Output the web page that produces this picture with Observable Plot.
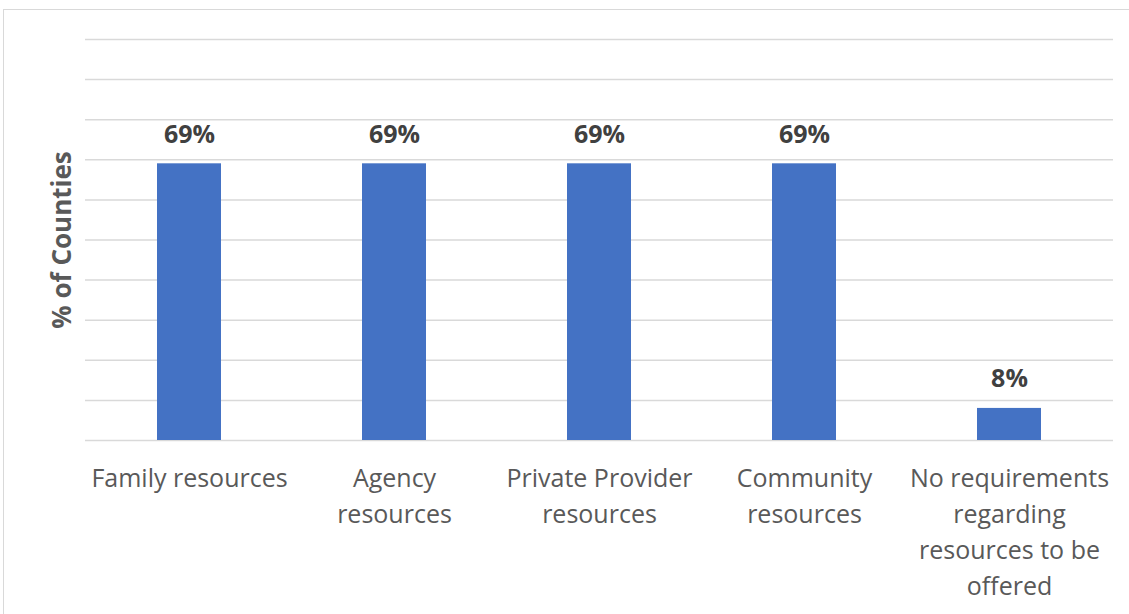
<!DOCTYPE html>
<html>
<head>
<meta charset="utf-8">
<script src="https://cdn.jsdelivr.net/npm/d3@7"></script>
<script src="https://cdn.jsdelivr.net/npm/@observablehq/plot@0.6"></script>
<style>
  html, body { margin: 0; padding: 0; background: #fff; overflow: hidden; }
  #wrap { position: relative; width: 1129px; height: 614px; }
  #frame { position: absolute; left: 3px; top: 9px; width: 1200px; height: 700px;
           border-top: 1.5px solid #d9d9d9; border-left: 1.5px solid #d9d9d9; }
  #chart { position: absolute; left: 0; top: 0; }
</style>
</head>
<body>
<div id="wrap"><div id="frame"></div><div id="chart"></div></div>
<script>
const categories = [
  "Family resources",
  "Agency resources",
  "Private Provider resources",
  "Community resources",
  "No requirements regarding resources to be offered"
];
const tickLabels = [
  "Family resources",
  "Agency\nresources",
  "Private Provider\nresources",
  "Community\nresources",
  "No requirements\nregarding\nresources to be\noffered"
];
const values = [69, 69, 69, 69, 8];
const gridTicks = [0, 10, 20, 30, 40, 50, 60, 70, 80, 90, 100];
const yTitle = "% of Counties";

const data = categories.map((c, i) => ({category: c, value: values[i], label: tickLabels[i]}));
const labelOf = new Map(data.map(d => [d.category, d.label]));
const font = "'Open Sans', 'Noto Sans', sans-serif";

const chart = Plot.plot({
  width: 1129,
  height: 614,
  marginLeft: 85,
  marginRight: 16,
  marginTop: 39,
  marginBottom: 174,
  style: {fontFamily: font, background: "transparent"},
  x: {domain: categories, paddingInner: 0.69, paddingOuter: 0.345, label: null},
  y: {domain: [0, 100], label: null},
  marks: [
    Plot.ruleY(gridTicks, {stroke: "#d9d9d9", strokeWidth: 1.5}),
    Plot.barY(data, {x: "category", y: "value", fill: "#4472c4"}),
    Plot.text(data, {
      x: "category", y: "value", text: d => d.value + "%",
      lineAnchor: "bottom", dy: -21, fontSize: 25, fontWeight: "bold", fill: "#404040"
    }),
    Plot.axisX({
      tickSize: 0, tickPadding: 21, fontSize: 25, lineHeight: 1.44,
      fill: "#595959", label: null, tickFormat: d => labelOf.get(d)
    }),
    Plot.axisY({ticks: [], label: null, tickSize: 0}),
    Plot.text([yTitle], {
      frameAnchor: "left", text: d => d, rotate: -90, dx: -23,
      fontSize: 26, fontWeight: "bold", fill: "#595959", textAnchor: "middle"
    })
  ]
});
document.getElementById("chart").appendChild(chart);
</script>
</body>
</html>
